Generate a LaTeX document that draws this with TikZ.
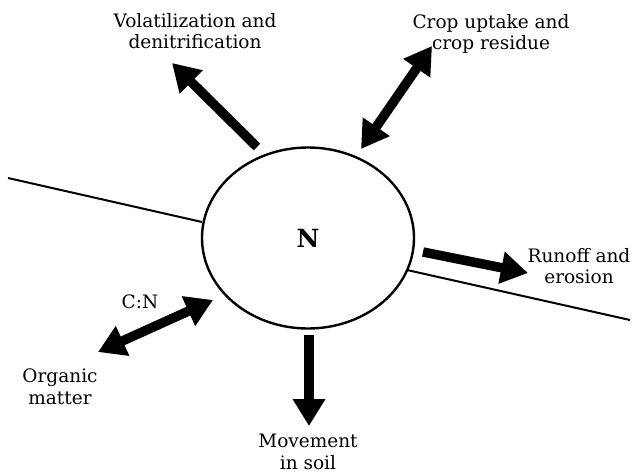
\documentclass[tikz,border=0pt]{standalone}
\usepackage{fontspec}
\setmainfont{DejaVu Serif}
\usetikzlibrary{arrows.meta,shapes.geometric}
\tikzset{
    flux/.style={line width=9.5pt, -{Triangle[length=27pt,width=31pt]}},
    fluxtwo/.style={line width=9.5pt, {Triangle[length=27pt,width=31pt]}-{Triangle[length=27pt,width=31pt]}},
    lbl/.style={align=center, inner sep=0pt, font=\fontsize{18.5}{21.5}\selectfont},
}
\begin{document}
\begin{tikzpicture}[x=1pt,y=-1pt]
    \useasboundingbox (0,0) rectangle (633,475);
    % the nitrogen pool
    \node[ellipse, draw, line width=2.4pt, minimum width=212pt, minimum height=181pt] (n) at (308,238) {\fontsize{25}{28}\selectfont\textbf{N}};
    % soil surface
    \coordinate (s_1) at (8,178);
    \coordinate (s_2) at (202,222);
    \coordinate (s_3) at (407,270);
    \coordinate (s_4) at (630,320);
    \draw[line width=2pt] (s_1) -- (s_2);
    \draw[line width=2pt] (s_3) -- (s_4);
    % labels
    \node[lbl] (vol) at (195,31) {Volatilization and\\denitrification};
    \node[lbl] (crop) at (491,34) {Crop uptake and\\crop residue};
    \node[lbl] (run) at (579,266) {Runoff and\\erosion};
    \node[lbl] (cn) at (140,302) {C:N};
    \node[lbl] (org) at (60,387) {Organic\\matter};
    \node[lbl] (mov) at (308,452) {Movement\\in soil};
    % arrow ends
    \coordinate (v_1) at (257,147);
    \coordinate (v_2) at (172,63);
    \coordinate (c_1) at (361,149);
    \coordinate (c_2) at (432,46);
    \coordinate (r_1) at (423,252);
    \coordinate (r_2) at (528,273);
    \coordinate (m_1) at (309,335);
    \coordinate (m_2) at (309,426);
    \coordinate (o_1) at (213,300);
    \coordinate (o_2) at (98,352);
    \draw[flux] (v_1) -- (v_2);
    \draw[fluxtwo] (c_1) -- (c_2);
    \draw[flux] (r_1) -- (r_2);
    \draw[flux] (m_1) -- (m_2);
    \draw[fluxtwo] (o_1) -- (o_2);
\end{tikzpicture}
\end{document}
